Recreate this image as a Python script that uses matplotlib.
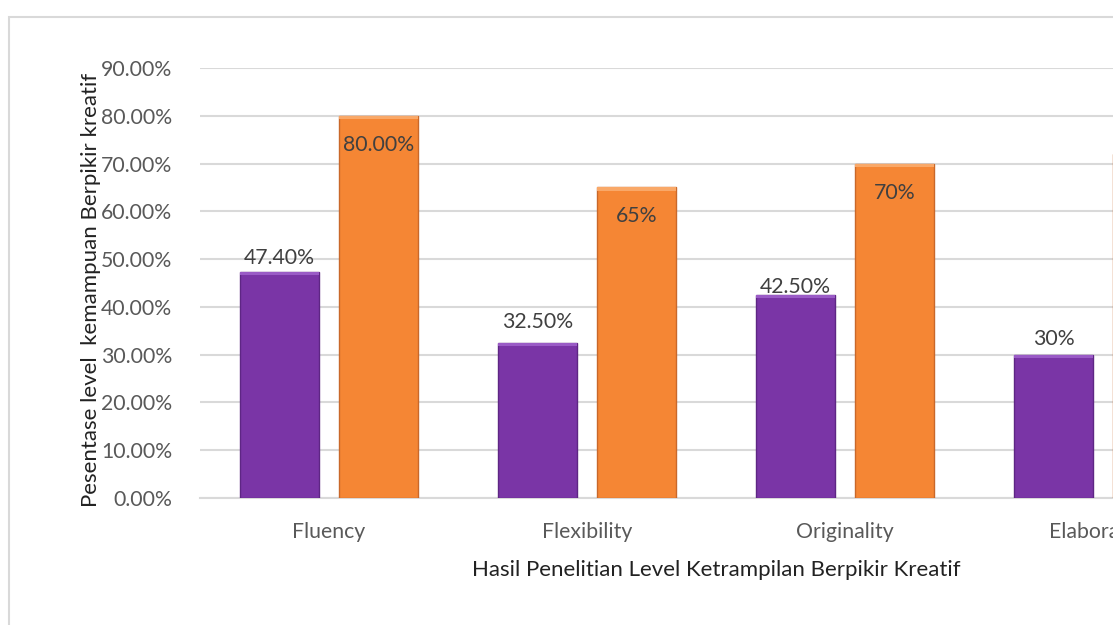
import numpy as np
import matplotlib
matplotlib.use("Agg")
import matplotlib.pyplot as plt
from matplotlib.patches import Rectangle

# ----------------------------------------------------------------------
# Data
# ----------------------------------------------------------------------
CATEGORIES = ["Fluency", "Flexibility", "Originality", "Elaboration"]
SERIES_A = [47.40, 32.50, 42.50, 30.0]      # purple
SERIES_B = [80.00, 65.0, 70.0, 72.0]        # orange (last one is off-image)
LABELS_A = ["47.40%", "32.50%", "42.50%", "30%"]
LABELS_B = ["80.00%", "65%", "70%", ""]
Y_TICKS = np.arange(0, 100, 10)

PURPLE = "#7A35A6"
ORANGE = "#F58634"
TEXT = "#404040"
GRID = "#D9D9D9"
FS = 15.3
FS_TITLE = 16

plt.rcParams["font.family"] = ["Lato", "DejaVu Sans"]

fig = plt.figure(figsize=(11.13, 6.25), dpi=100)

# outer chart border (image is cropped on the right / bottom)
fig.patches.append(Rectangle((9 / 1113, -0.1), 1.2, 1 - 17 / 625 + 0.1,
                             transform=fig.transFigure, fill=False,
                             edgecolor=GRID, linewidth=1.5))

# axes run past the right edge, so the last category is clipped
ax = fig.add_axes([200 / 1113, 127 / 625, 1032 / 1113, 430 / 625])

x = np.arange(len(CATEGORIES))
w = 0.306
off = 0.192

bars_a = ax.bar(x - off, SERIES_A, w, color=PURPLE, edgecolor="#5E2684",
                linewidth=1, zorder=3)
bars_b = ax.bar(x + off, SERIES_B, w, color=ORANGE, edgecolor="#C9682A",
                linewidth=1, zorder=3)

# light bevel strip along the top of each bar
for bars, col in ((bars_a, "#9A5BC6"), (bars_b, "#F9A868")):
    for b in bars:
        ax.add_patch(Rectangle((b.get_x(), b.get_height() - 0.7),
                               b.get_width(), 0.7, color=col, zorder=4,
                               linewidth=0))

# value labels (offsets in pixels)
a_offsets = [14, 21, 8, 16]
for b, lab, dy in zip(bars_a, LABELS_A, a_offsets):
    ax.annotate(lab, (b.get_x() + b.get_width() / 2, b.get_height()),
                xytext=(0, dy), textcoords="offset pixels",
                ha="center", va="center", fontsize=FS, color=TEXT, zorder=5)
for b, lab in zip(bars_b, LABELS_B):
    ax.annotate(lab, (b.get_x() + b.get_width() / 2, b.get_height()),
                xytext=(0, -29), textcoords="offset pixels",
                ha="center", va="center", fontsize=FS, color=TEXT, zorder=5)

ax.set_xlim(-0.5, len(CATEGORIES) - 0.5)
ax.set_ylim(0, 90)
ax.set_yticks(Y_TICKS)
ax.set_yticklabels([f"{v:.2f}%" for v in Y_TICKS])
ax.set_xticks(x)
ax.set_xticklabels(CATEGORIES)

ax.grid(axis="y", color=GRID, linewidth=1.5, zorder=0)
ax.set_axisbelow(True)
for s in ("top", "right", "left"):
    ax.spines[s].set_visible(False)
ax.spines["bottom"].set_color(GRID)
ax.spines["bottom"].set_linewidth(1.5)
ax.tick_params(length=0, labelsize=FS, labelcolor="#595959")
ax.tick_params(axis="x", pad=17)
ax.tick_params(axis="y", pad=20)

ax.set_ylabel("Pesentase level  kemampuan Berpikir kreatif",
              fontsize=FS_TITLE, color="#222222")
ax.yaxis.set_label_coords(-99 / 1032, 0.484)
ax.set_xlabel("Hasil Penelitian Level Ketrampilan Berpikir Kreatif",
              fontsize=FS_TITLE, color="#222222")
ax.xaxis.set_label_coords(516 / 1032, -62 / 430)

fig.savefig("out.png", dpi=100)
